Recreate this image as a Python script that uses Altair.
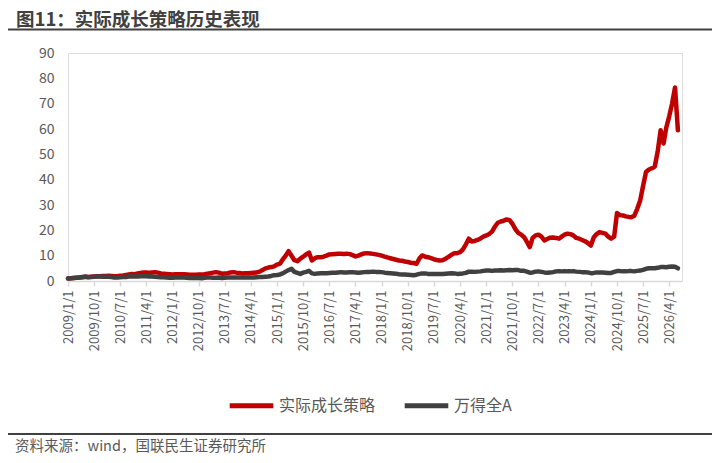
import altair as alt
import pandas as pd

TITLE = "图11：实际成长策略历史表现"
SOURCE = "资料来源：wind，国联民生证券研究所"
SERIES = ["实际成长策略", "万得全A"]
COLORS = ["#C00000", "#404040"]

red = [
    1.0, 1.1, 1.2, 1.3, 1.4, 1.5, 1.6, 1.6, 1.7, 1.8, 1.9, 1.9,
    2.0, 2.0, 2.1, 2.0, 1.9, 1.9, 2.1, 2.2, 2.4, 2.6, 2.8, 2.7,
    3.0, 3.2, 3.4, 3.4, 3.3, 3.4, 3.5, 3.3, 3.0, 2.9, 2.8, 2.7,
    2.6, 2.7, 2.7, 2.7, 2.7, 2.6, 2.5, 2.5, 2.5, 2.6, 2.6, 2.7,
    2.9, 3.1, 3.3, 3.5, 3.3, 2.9, 3.0, 3.1, 3.4, 3.5, 3.3, 3.2,
    3.0, 3.1, 3.1, 3.2, 3.3, 3.4, 3.7, 4.3, 5.0, 5.3, 5.5, 5.8,
    6.5, 6.9, 8.5, 10.0, 11.8, 10.0, 8.2, 7.8, 8.8, 9.6, 10.5, 11.2,
    8.1, 9.0, 9.4, 9.4, 9.6, 10.0, 10.5, 10.6, 10.7, 10.8, 10.8, 10.7,
    10.8, 10.6, 10.2, 9.7, 10.0, 10.5, 10.9, 11.0, 10.9, 10.7, 10.5, 10.3,
    10.0, 9.6, 9.3, 9.0, 8.7, 8.4, 8.1, 8.0, 7.7, 7.5, 7.2, 7.1,
    6.8, 9.0, 10.1, 9.6, 9.4, 9.0, 8.6, 8.3, 8.1, 8.2, 8.8, 9.5,
    10.3, 11.0, 11.0, 11.4, 12.5, 14.5, 16.7, 15.6, 15.8, 16.2, 16.8, 17.5,
    18.0, 18.6, 19.5, 21.5, 23.0, 23.5, 23.8, 24.3, 24.0, 22.6, 20.5, 19.0,
    18.3, 17.3, 15.5, 13.4, 17.0, 18.0, 18.3, 17.5, 16.0, 16.6, 17.1, 17.2,
    17.0, 16.7, 17.5, 18.3, 18.7, 18.5, 18.0, 17.0, 16.7, 16.2, 15.7, 15.0,
    14.0, 17.3, 18.5, 19.3, 19.0, 18.7, 17.5, 16.7, 17.5, 26.8, 26.0, 25.9,
    25.5, 25.3, 25.2, 25.8, 28.5, 31.8, 37.5, 43.0, 44.0, 44.5, 45.2, 51.0,
    59.5, 54.3, 60.5, 65.0, 70.0, 76.4, 59.5,
]

gray = [
    1.0, 1.1, 1.2, 1.3, 1.4, 1.6, 1.8, 1.5, 1.6, 1.7, 1.8, 1.8,
    1.7, 1.7, 1.7, 1.6, 1.4, 1.4, 1.5, 1.6, 1.6, 1.8, 1.8, 1.8,
    1.8, 1.9, 1.9, 1.9, 1.8, 1.8, 1.7, 1.6, 1.5, 1.5, 1.4, 1.3,
    1.3, 1.4, 1.4, 1.4, 1.4, 1.3, 1.2, 1.2, 1.2, 1.2, 1.1, 1.3,
    1.4, 1.4, 1.3, 1.3, 1.4, 1.2, 1.3, 1.4, 1.4, 1.4, 1.4, 1.4,
    1.4, 1.4, 1.4, 1.4, 1.4, 1.5, 1.6, 1.6, 1.7, 1.8, 2.0, 2.3,
    2.4, 2.6, 3.0, 3.7, 4.3, 4.8, 3.6, 3.2, 2.8, 3.3, 3.6, 4.0,
    3.0, 2.8, 3.0, 3.1, 3.1, 3.1, 3.2, 3.3, 3.3, 3.4, 3.5, 3.4,
    3.4, 3.5, 3.5, 3.4, 3.3, 3.4, 3.5, 3.6, 3.6, 3.7, 3.6, 3.6,
    3.5, 3.3, 3.2, 3.1, 3.0, 2.9, 2.7, 2.6, 2.6, 2.5, 2.4, 2.3,
    2.5, 2.8, 3.0, 3.0, 2.8, 2.8, 2.8, 2.8, 2.8, 2.8, 2.9, 3.0,
    3.1, 3.0, 2.8, 2.9, 3.0, 3.2, 3.7, 3.7, 3.6, 3.7, 3.8, 4.0,
    4.1, 4.1, 4.0, 4.1, 4.1, 4.2, 4.1, 4.2, 4.3, 4.2, 4.3, 4.3,
    4.0, 4.0, 3.7, 3.3, 3.4, 3.7, 3.8, 3.6, 3.4, 3.3, 3.4, 3.5,
    3.8, 3.9, 3.8, 3.9, 3.8, 3.8, 3.9, 3.7, 3.6, 3.5, 3.5, 3.4,
    3.1, 3.2, 3.4, 3.4, 3.4, 3.3, 3.2, 3.2, 3.6, 3.9, 3.9, 3.8,
    3.8, 3.9, 3.9, 3.8, 4.0, 4.1, 4.4, 4.8, 5.0, 5.0, 5.0, 5.2,
    5.5, 5.5, 5.4, 5.6, 5.7, 5.6, 5.0,
]

tick_dates = [
    "2009-01-01", "2009-10-01", "2010-07-01", "2011-04-01", "2012-01-01",
    "2012-10-01", "2013-07-01", "2014-04-01", "2015-01-01", "2015-10-01",
    "2016-07-01", "2017-04-01", "2018-01-01", "2018-10-01", "2019-07-01",
    "2020-04-01", "2021-01-01", "2021-10-01", "2022-07-01", "2023-04-01",
    "2024-01-01", "2024-10-01", "2025-07-01", "2026-04-01",
]
y_ticks = [0, 10, 20, 30, 40, 50, 60, 70, 80, 90]

dates = pd.date_range("2009-01-01", periods=len(red), freq="MS")
df = pd.concat([
    pd.DataFrame({"date": dates, "value": red, "series": SERIES[0]}),
    pd.DataFrame({"date": dates, "value": gray, "series": SERIES[1]}),
])

FONT = "Noto Sans CJK SC"
LABEL = "#595959"

tick_vals = [alt.DateTime(year=int(d[:4]), month=int(d[5:7]), date=1) for d in tick_dates]

lines = alt.Chart(df).mark_line(strokeWidth=4.5, strokeCap="round", strokeJoin="round").encode(
    x=alt.X(
        "date:T",
        scale=alt.Scale(domain=[alt.DateTime(year=2009, month=1, date=1),
                                alt.DateTime(year=2026, month=8, date=13)]),
        axis=alt.Axis(
            values=tick_vals, format="%Y/%-m/%-d", labelAngle=270, title=None,
            labelFont=FONT, labelFontSize=13, labelColor=LABEL,
            domainColor="#d9d9d9", domainWidth=1.5, tickColor="#d9d9d9",
            tickSize=5, tickWidth=1.5, grid=False, labelPadding=4,
            labelOverlap=False, labelFlush=False,
        ),
    ),
    y=alt.Y(
        "value:Q",
        scale=alt.Scale(domain=[0, 90], nice=False),
        axis=alt.Axis(
            values=y_ticks, title=None, domain=False, ticks=False, grid=False,
            labelFont=FONT, labelFontSize=14, labelColor=LABEL, labelPadding=14,
        ),
    ),
    color=alt.Color(
        "series:N",
        scale=alt.Scale(domain=SERIES, range=COLORS),
        legend=alt.Legend(
            title=None, orient="none", legendX=159, legendY=328,
            direction="horizontal", symbolType="stroke", symbolStrokeWidth=5,
            symbolSize=1900, labelFont=FONT, labelFontSize=16, labelColor=LABEL,
            labelOffset=3, columnPadding=18,
        ),
    ),
    order=alt.Order("series:N", sort="descending"),
)

title_df = pd.DataFrame({"t": [TITLE]})
title_mark = alt.Chart(title_df).mark_text(
    align="left", baseline="middle", font=FONT, fontSize=18.5, fontWeight="bold",
    color="#404040",
).encode(x=alt.value(-52), y=alt.value(-33.5), text="t:N")

source_df = pd.DataFrame({"t": [SOURCE]})
source_mark = alt.Chart(source_df).mark_text(
    align="left", baseline="middle", font=FONT, fontSize=14.5, color=LABEL,
).encode(x=alt.value(-53), y=alt.value(394), text="t:N")

top_rule = alt.Chart(title_df).mark_rule(color="#404040", strokeWidth=2).encode(
    x=alt.value(-62), x2=alt.value(660), y=alt.value(-23.5)
)
bottom_rule = alt.Chart(title_df).mark_rule(color="#404040", strokeWidth=2).encode(
    x=alt.value(-62), x2=alt.value(660), y=alt.value(381)
)

chart = alt.layer(lines, title_mark, source_mark, top_rule, bottom_rule).properties(
    width=614, height=228,
    autosize=alt.AutoSizeParams(type="none"),
    padding={"left": 60, "top": 45, "right": 30, "bottom": 174},
).configure_view(stroke=None).configure(background="white")

chart.save("out.html", embed_options={"renderer": "svg", "actions": False})
